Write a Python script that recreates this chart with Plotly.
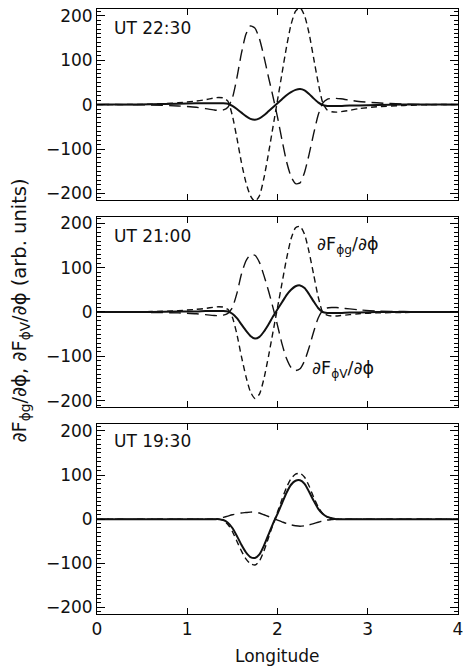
import plotly.graph_objects as go

# ---------------- data ----------------
lon = [0, 0.3, 0.6, 0.9, 1.1, 1.2, 1.3, 1.35, 1.4, 1.45, 1.5, 1.55, 1.6, 1.65, 1.7,
       1.75, 1.8, 1.85, 1.9, 1.95, 2.0, 2.05, 2.1, 2.15, 2.2, 2.25, 2.3, 2.35, 2.4,
       2.45, 2.5, 2.55, 2.6, 2.65, 2.7, 2.8, 2.9, 3.1, 3.4, 3.7, 4.0]

# UT 22:30
g_2230 = [0, 0, 1, 4, 8, 11, 15, 16, 15, 8, -25, -75, -130, -175, -205,
          -218, -205, -165, -110, -50, 10, 70, 130, 180, 210, 218, 200, 160, 105,
          50, 5, -12, -16, -17, -16, -13, -9, -5, -2, 0, 0]
v_2230 = [0, 0, -1, -3, -6, -9, -12, -13, -12, -6, 15, 60, 115, 158, 177,
          172, 148, 108, 62, 18, -28, -80, -128, -162, -178, -176, -152, -112, -66,
          -24, 3, 12, 14, 14, 13, 10, 7, 4, 1, 0, 0]
s_2230 = [0, 0, 1, 2, 3, 3, 3, 3, 3, 2, -3, -10, -18, -26, -32,
          -34, -31, -24, -15, -6, 3, 12, 21, 28, 33, 35, 32, 24, 14,
          5, -1, -3, -3, -3, -3, -2, -2, -1, 0, 0, 0]

# UT 21:00
g_2100 = [0, 0, 1, 3, 6, 8, 11, 12, 11, 6, -12, -50, -100, -145, -180,
          -195, -185, -150, -100, -45, 10, 65, 120, 165, 190, 193, 175, 135, 85,
          35, 0, -7, -9, -9, -8, -6, -4, -2, -1, 0, 0]
v_2100 = [0, 0, -1, -2, -4, -6, -8, -8, -7, -3, 10, 42, 85, 115, 129,
          128, 112, 82, 48, 10, -30, -72, -105, -125, -132, -128, -110, -80, -45,
          -14, 4, 9, 10, 10, 9, 7, 5, 2, 1, 0, 0]
s_2100 = [0, 0, 0, 1, 1, 2, 2, 2, 2, 1, -4, -14, -28, -42, -54,
          -60, -56, -44, -28, -10, 6, 22, 38, 50, 58, 60, 54, 40, 24,
          9, 0, -2, -2, -2, -2, -1, -1, 0, 0, 0, 0]

# UT 19:30
g_1930 = [0, 0, 0, 0, 0, 0, 0, 0, -3, -12, -28, -50, -72, -90, -101,
          -104, -95, -72, -42, -12, 16, 45, 72, 92, 102, 104, 95, 75, 50,
          28, 13, 5, 2, 0, 0, 0, 0, 0, 0, 0, 0]
v_1930 = [0, 0, 0, 0, 0, 0, 0, 1, 4, 7, 10, 12, 14, 15, 16,
          16, 14, 10, 6, 2, -2, -6, -10, -13, -15, -16, -15, -13, -10,
          -7, -4, -2, -1, 0, 0, 0, 0, 0, 0, 0, 0]
s_1930 = [0, 0, 0, 0, 0, 0, 0, 0, -2, -8, -20, -38, -58, -75, -86,
          -88, -80, -60, -35, -10, 12, 36, 60, 78, 87, 88, 80, 62, 42,
          24, 12, 5, 2, 0, 0, 0, 0, 0, 0, 0, 0]

panel_labels = ["UT 22:30", "UT 21:00", "UT 19:30"]
x_title = "Longitude"
y_title = "∂F<sub>ϕg</sub>/∂ϕ, ∂F<sub>ϕV</sub>/∂ϕ (arb. units)"
label_g = "∂F<sub>ϕg</sub>/∂ϕ"
label_v = "∂F<sub>ϕV</sub>/∂ϕ"

panels = [(g_2230, v_2230, s_2230), (g_2100, v_2100, s_2100), (g_1930, v_1930, s_1930)]

# ---------------- figure ----------------
FONT = "DejaVu Sans"
INK = "#111111"
W, H = 469, 667
ML, MR, MT, MB = 97, 6, 8, 53
PH = H - MT - MB
PW = W - ML - MR

def py(px):  # pixel row -> paper y
    return (H - MB - px) / PH

def px_(pxx):
    return (pxx - ML) / PW

domains = [[py(199.5), 1.0], [py(407), py(216)], [0.0, py(424)]]

fig = go.Figure()
for i, (g, v, s) in enumerate(panels):
    ax = "" if i == 0 else str(i + 1)
    common = dict(x=lon, mode="lines", xaxis="x" + ax, yaxis="y" + ax,
                  showlegend=False, hoverinfo="skip")
    fig.add_trace(go.Scatter(y=v, line=dict(color=INK, width=1.4, dash="12px,6px",
                                            shape="spline", smoothing=0.6), **common))
    fig.add_trace(go.Scatter(y=g, line=dict(color=INK, width=1.4, dash="6px,4px",
                                            shape="spline", smoothing=0.6), **common))
    fig.add_trace(go.Scatter(y=s, line=dict(color=INK, width=2.0,
                                            shape="spline", smoothing=0.6), **common))

layout = dict(
    width=W, height=H,
    margin=dict(l=ML, r=MR, t=MT, b=MB, pad=0),
    plot_bgcolor="white", showlegend=False,
    font=dict(family=FONT, size=17, color=INK),
)
for i in range(3):
    ax = "" if i == 0 else str(i + 1)
    layout["xaxis" + ax] = dict(
        domain=[0, 1], range=[0, 4], tickmode="linear", tick0=0, dtick=1,
        ticks="inside", ticklen=6, tickcolor="black",
        showline=True, linecolor="black", mirror="ticks",
        showgrid=False, zeroline=False, showticklabels=(i == 2),
        anchor="y" + ax,
    )
    layout["yaxis" + ax] = dict(
        domain=domains[i], range=[-215, 215], tickmode="linear", tick0=0, dtick=100,
        ticks="inside", ticklen=8, tickcolor="black",
        showline=True, linecolor="black", mirror="ticks",
        showgrid=False, zeroline=False, anchor="x" + ax,
        minor=dict(ticks="inside", ticklen=4, tickcolor="black", dtick=10, tick0=0),
    )
fig.update_layout(**layout)

ann = []
label_rows = [27, 235, 441]
for lab, row in zip(panel_labels, label_rows):
    ann.append(dict(text=lab, xref="paper", yref="paper", x=px_(112), y=py(row),
                    xanchor="left", yanchor="middle", showarrow=False,
                    font=dict(family=FONT, size=17, color=INK)))
ann.append(dict(text=label_g, xref="x2", yref="y2", x=2.41, y=150,
                xanchor="left", yanchor="middle", showarrow=False,
                font=dict(family=FONT, size=17.5, color=INK)))
ann.append(dict(text=label_v, xref="x2", yref="y2", x=2.36, y=-130,
                xanchor="left", yanchor="middle", showarrow=False,
                font=dict(family=FONT, size=17.5, color=INK)))
ann.append(dict(text=x_title, xref="paper", yref="paper", x=px_(280), y=py(656),
                xanchor="center", yanchor="middle", showarrow=False,
                font=dict(family=FONT, size=17, color=INK)))
ann.append(dict(text=y_title, xref="paper", yref="paper", x=px_(19), y=py(310),
                xanchor="center", yanchor="middle", textangle=-90, showarrow=False,
                font=dict(family=FONT, size=19.5, color=INK)))
fig.update_layout(annotations=ann)

fig.write_html("out.html")
